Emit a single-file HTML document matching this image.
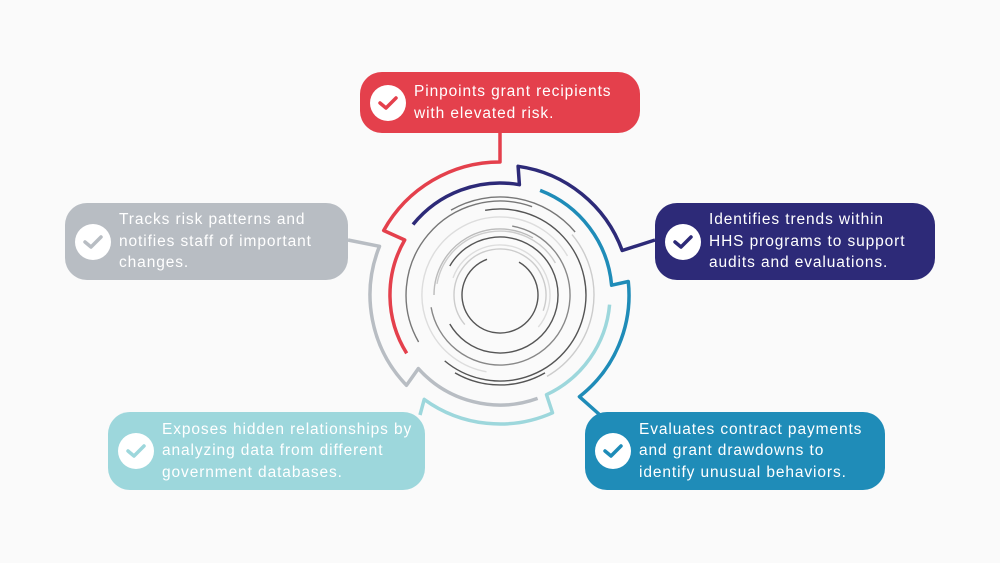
<!DOCTYPE html>
<html><head><meta charset="utf-8"><style>
html,body{margin:0;padding:0;background:#fafafa;}
#w{position:relative;width:1000px;height:563px;overflow:hidden;font-family:"Liberation Sans",sans-serif;}
.b{position:absolute;border-radius:22px;color:#fff;font-size:15.5px;letter-spacing:0.9px;line-height:21.5px;box-sizing:border-box;display:flex;align-items:center;white-space:nowrap;}
.c{width:36px;height:36px;border-radius:50%;background:#fff;flex:none;margin:0 8px 0 10px;display:flex;align-items:center;justify-content:center;}
svg{position:absolute;left:0;top:0;}
</style></head><body><div id="w">
<svg id="s" width="1000" height="563"></svg>
<div class="b" style="left:360px;top:72px;width:280px;height:61px;background:#e4404c;"><div class="c"><svg width="20" height="16" style="position:static"><path d="M2 8 L8 13 L18 3" fill="none" stroke="#e4404c" stroke-width="3.5" stroke-linecap="round" stroke-linejoin="round"/></svg></div><div>Pinpoints grant recipients<br>with elevated risk.</div></div>
<div class="b" style="left:65px;top:203px;width:283px;height:77px;background:#b8bdc3;"><div class="c"><svg width="20" height="16" style="position:static"><path d="M2 8 L8 13 L18 3" fill="none" stroke="#b8bdc3" stroke-width="3.5" stroke-linecap="round" stroke-linejoin="round"/></svg></div><div>Tracks risk patterns and<br>notifies staff of important<br>changes.</div></div>
<div class="b" style="left:655px;top:203px;width:280px;height:77px;background:#2d2a78;"><div class="c"><svg width="20" height="16" style="position:static"><path d="M2 8 L8 13 L18 3" fill="none" stroke="#2d2a78" stroke-width="3.5" stroke-linecap="round" stroke-linejoin="round"/></svg></div><div>Identifies trends within<br>HHS programs to support<br>audits and evaluations.</div></div>
<div class="b" style="left:585px;top:412px;width:300px;height:78px;background:#1f8cb8;"><div class="c"><svg width="20" height="16" style="position:static"><path d="M2 8 L8 13 L18 3" fill="none" stroke="#1f8cb8" stroke-width="3.5" stroke-linecap="round" stroke-linejoin="round"/></svg></div><div>Evaluates contract payments<br>and grant drawdowns to<br>identify unusual behaviors.</div></div>
<div class="b" style="left:108px;top:412px;width:317px;height:78px;background:#9dd7dc;"><div class="c"><svg width="20" height="16" style="position:static"><path d="M2 8 L8 13 L18 3" fill="none" stroke="#9dd7dc" stroke-width="3.5" stroke-linecap="round" stroke-linejoin="round"/></svg></div><div>Exposes hidden relationships by<br>analyzing data from different<br>government databases.</div></div>
</div>
<script>
var cx=500,cy=295,s=document.getElementById('s'),ns='http://www.w3.org/2000/svg';
function P(r,a){a=a*Math.PI/180;return (cx+r*Math.cos(a)).toFixed(1)+' '+(cy+r*Math.sin(a)).toFixed(1);}
function arc(r,a1,a2){var sw=a2>a1?1:0,l=Math.abs(a2-a1)>180?1:0;return ' A'+r+' '+r+' 0 '+l+' '+sw+' '+P(r,a2);}
function path(d,c,w){var p=document.createElementNS(ns,'path');p.setAttribute('d',d);p.setAttribute('fill','none');p.setAttribute('stroke',c);p.setAttribute('stroke-width',w);p.setAttribute('stroke-linejoin','round');s.appendChild(p);}
var rings=[[30,0,360,'#e6e6e6'],[38,-60,250,'#555'],[46,140,380,'#ccc'],[50,200,400,'#ddd'],[58,-150,150,'#555'],[64,190,330,'#ccc'],[70,-80,170,'#888'],[78,100,330,'#ddd'],[86,-100,130,'#555'],[94,150,290,'#777'],[94,-40,60,'#ccc'],[98,-120,-40,'#777'],[90,60,120,'#555'],[66,180,300,'#bbb']];
rings.forEach(function(q){path('M'+P(q[0],q[1])+arc(q[0],q[1],q[2]),q[3],1.4);});
path('M500 133 L'+P(133,-90)+arc(133,-90,-151)+' L'+P(110,-150)+arc(110,-150,-212),'#e4404c',3.5);
path('M'+P(112,-141)+arc(112,-141,-80)+' L'+P(130,-82)+arc(130,-82,-20)+' L655 240','#2d2a78',3.5);
path('M'+P(112,-69)+arc(112,-69,-5)+' L'+P(129,-6)+arc(129,-6,52)+' L600 415','#1f8cb8',3.5);
path('M'+P(110,5)+arc(110,5,65)+' L'+P(129,66)+arc(129,66,126)+' L420 415','#9dd7dc',3.5);
path('M'+P(110,70)+arc(110,70,138)+' L'+P(130,136)+arc(130,136,202)+' L348 240','#b8bdc3',3.5);
</script>
</body></html>
